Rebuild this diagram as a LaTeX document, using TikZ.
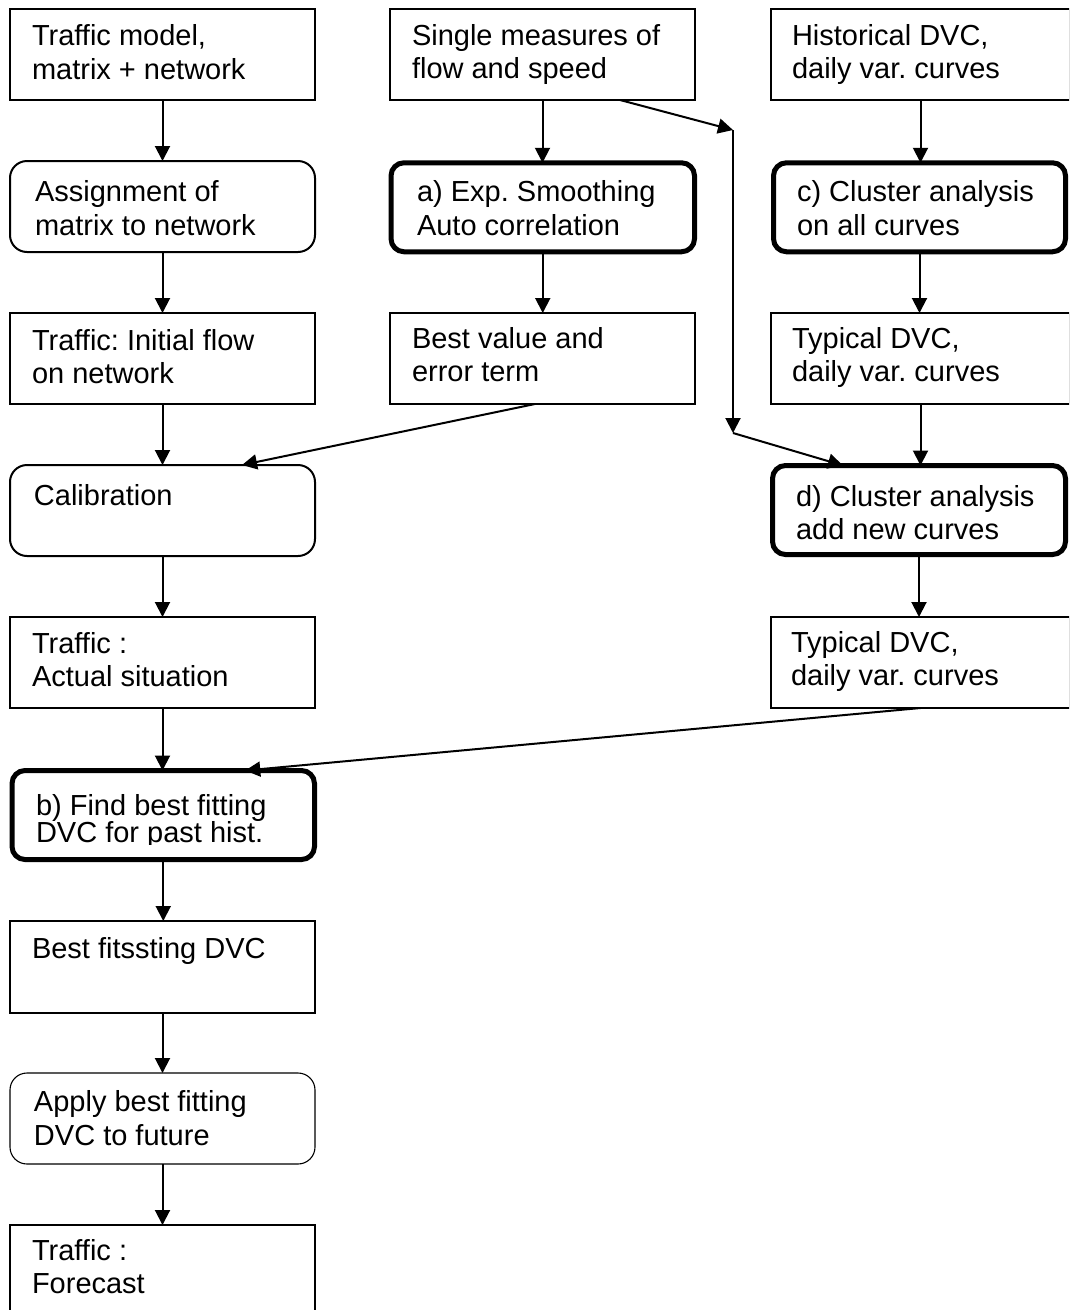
\documentclass[tikz,border=0pt]{standalone}
\usepackage{fontspec}
\setmainfont{Liberation Sans}
\frenchspacing
\usetikzlibrary{arrows.meta,calc}
\tikzset{
  box/.style={draw, line width=2pt, minimum width=305pt, minimum height=91pt, inner sep=0pt, outer sep=0pt, fill=white},
  rbox/.style={box, rounded corners=17pt},
  tbox/.style={box, rounded corners=13pt, line width=5pt, minimum height=89pt},
  lbl/.style={anchor=base west, inner sep=0pt, outer sep=0pt, align=left, font={\fontsize{29}{33.3}\selectfont}},
  arr/.style={-{Triangle[length=15pt,width=15pt]}, line width=2pt}
}
\begin{document}
\begin{tikzpicture}[x=1pt,y=-1pt]
\useasboundingbox (0,0) rectangle (1069,1310);
\clip (0,0) rectangle (1069,1310);
% left column
\node[box]  (L1) at (162.5,54.5) {};
\node[rbox] (L2) at (162.5,206.5) {};
\node[box]  (L3) at (162.5,358.5) {};
\node[rbox] (L4) at (162.5,510.5) {};
\node[box]  (L5) at (162.5,662.5) {};
\node[tbox, minimum width=302.5pt] (L6) at (163.25,815) {};
\node[box, minimum height=92pt] (L7) at (162.5,967) {};
\node[rbox, line width=1.1pt] (L8) at (162.5,1118.5) {};
\node[box]  (L9) at (162.5,1270.5) {};
% middle column
\node[box]  (M1) at (542.5,54.5) {};
\node[tbox, minimum width=303.5pt] (M2) at (542.75,207.25) {};
\node[box]  (M3) at (542.5,358.5) {};
% right column
\node[box, minimum width=299pt]  (R1) at (920.5,54.5) {};
\node[tbox, minimum width=292pt] (R2) at (919.5,207.25) {};
\node[box, minimum width=299pt]  (R3) at (920.5,358.5) {};
\node[tbox, minimum width=293pt] (R4) at (919,510) {};
\node[box, minimum width=299pt]  (R5) at (920.5,662.5) {};

% texts (anchor = baseline of the last line)
\node[lbl] (tL1) at (32,79) {Traffic model,\\matrix + network};
\node[lbl] (tL2) at (35,235) {Assignment of\\matrix to network};
\node[lbl] (tL3) at (32,383.3) {Traffic: Initial flow\\on network};
\node[lbl] (tL4) at (34,505) {Calibration};
\node[lbl] (tL5) at (32,686.6) {Traffic :\\Actual situation};
\begin{scope}
\clip (0,700) rectangle (320,844);
\node[lbl, font={\fontsize{29}{27.5}\selectfont}] (tL6) at (36,842.5) {b) Find best fitting\\DVC for past hist.};
\end{scope}
\node[lbl] (tL7) at (32,958) {Best fitssting DVC};
\node[lbl] (tL8) at (34,1145) {Apply best fitting\\DVC to future};
\node[lbl] (tL9) at (32,1293.3) {Traffic :\\Forecast};
\node[lbl] (tM1) at (412,78.3) {Single measures of\\flow and speed};
\node[lbl] (tM2) at (417,235) {a) Exp. Smoothing\\Auto correlation};
\node[lbl] (tM3) at (412,381.6) {Best value and\\error term};
\node[lbl] (tR1) at (792,78.3) {Historical DVC,\\daily var. curves};
\node[lbl] (tR2) at (797,235) {c) Cluster analysis\\on all curves};
\node[lbl] (tR3) at (792,381.3) {Typical DVC,\\daily var. curves};
\node[lbl] (tR4) at (796,539.5) {d) Cluster analysis\\add new curves};
\node[lbl] (tR5) at (791,685.3) {Typical DVC,\\daily var. curves};

% vertical connectors
\foreach \a/\b in {L1/L2,L2/L3,L3/L4,L4/L5,L5/L6,L6/L7,L7/L8,L8/L9,M1/M2,M2/M3,R1/R2,R2/R3,R3/R4,R4/R5}
  \draw[arr] (\a.south) -- (\a.south |- \b.north);

% diagonal connectors
\coordinate (c1) at (733,130);
\coordinate (c2) at (733,433);
\draw[arr] ($(M3.south)+(-7.5,0)$) -- ($(L4.north)+(79.5,0)$);
\draw[arr] (R5.south) -- ($(L6.north)+(82,0)$);
\draw[arr] ($(M1.south)+(77.5,0)$) -- (c1);
\draw[arr] (c1) -- (c2);
\draw[arr] (c2) -- ($(R4.north)+(-76,0)$);
\end{tikzpicture}
\end{document}
